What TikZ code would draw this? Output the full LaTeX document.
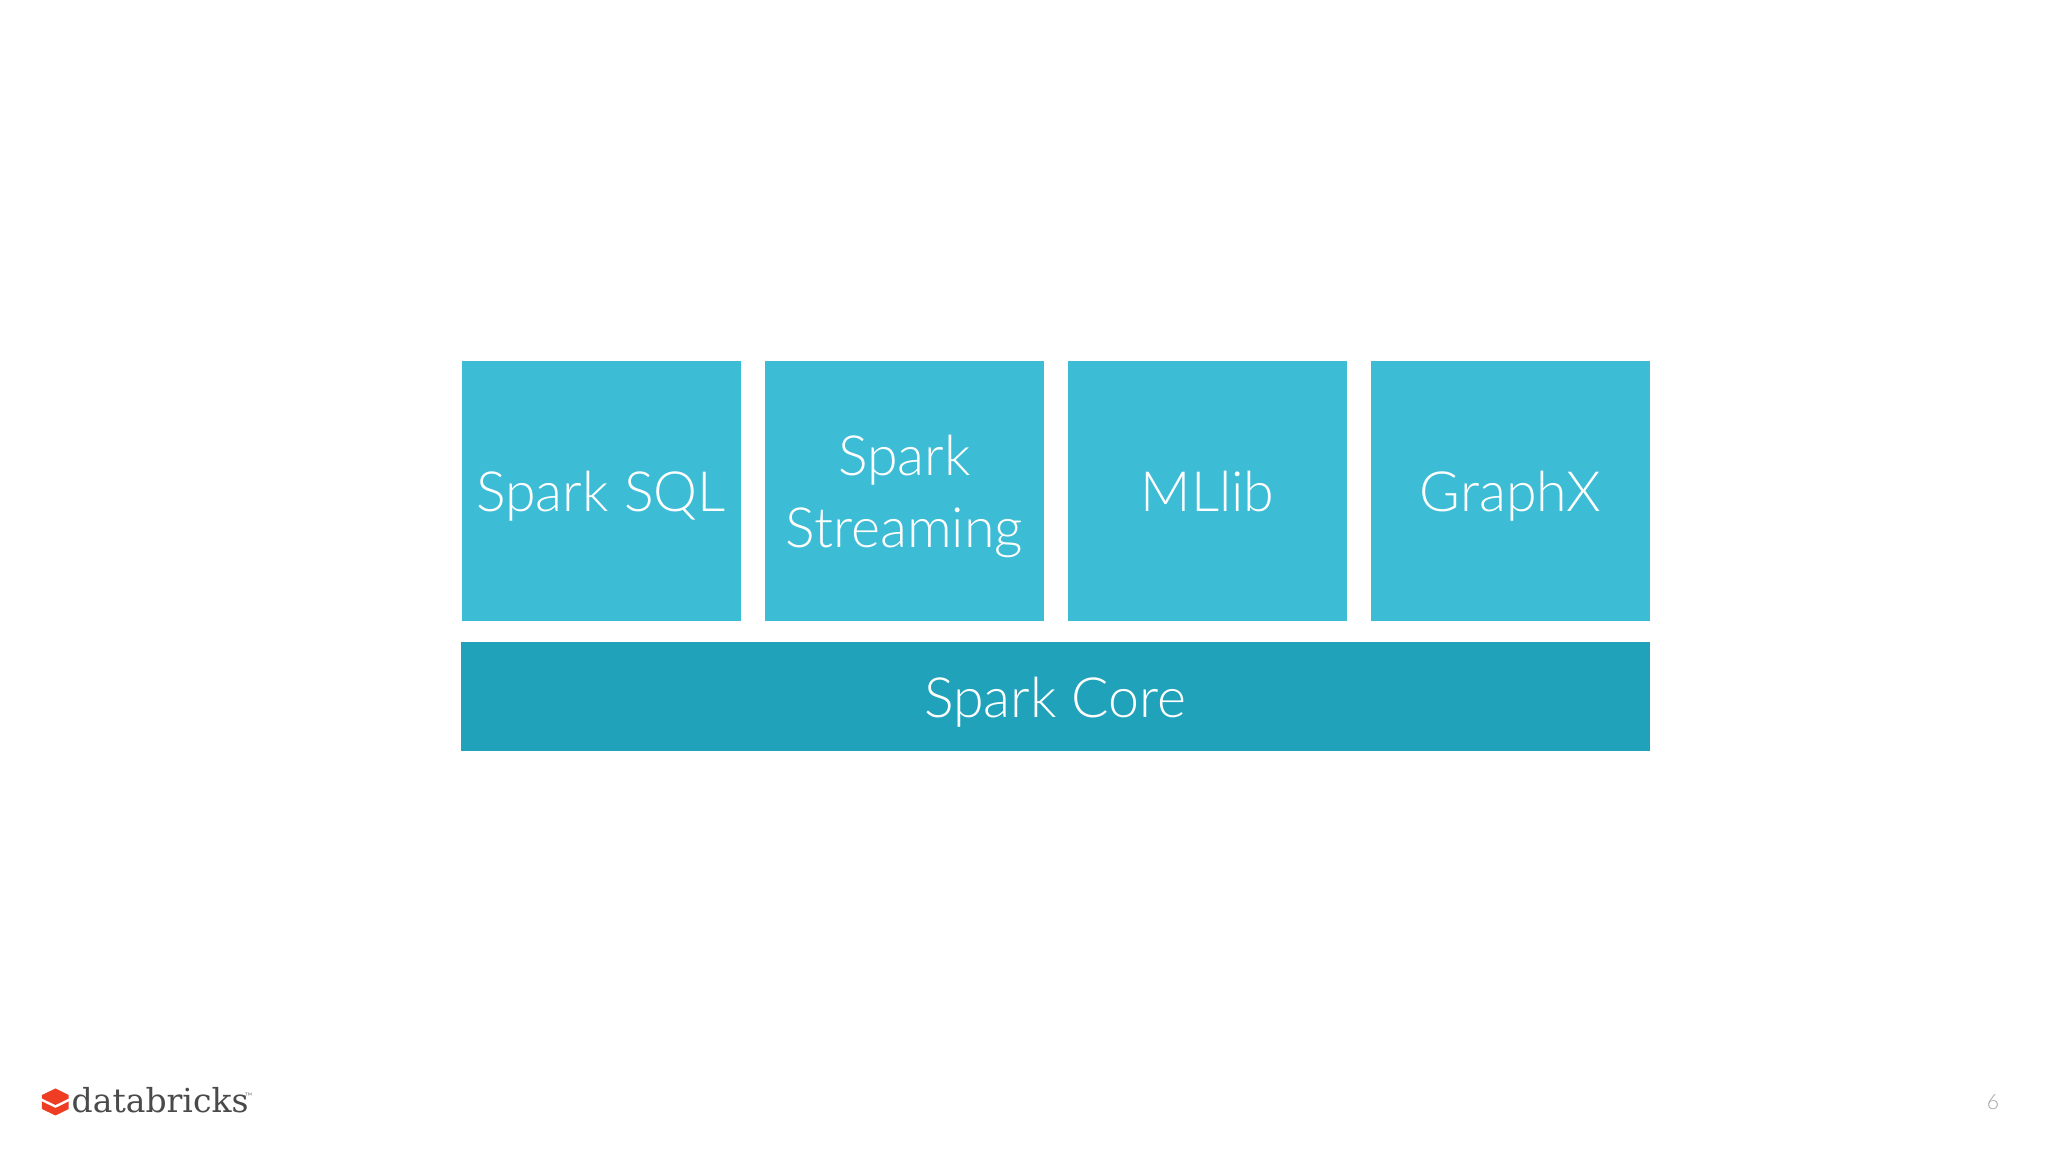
\documentclass[tikz,border=0pt]{standalone}
\usepackage{fontspec}
\setmainfont{Lato Light}
\newfontfamily\logofont{DejaVu Serif}
\definecolor{boxblue}{HTML}{3DBCD5}
\definecolor{coreblue}{HTML}{20A3BA}
\definecolor{logored}{HTML}{EE3D23}
\definecolor{logogray}{HTML}{4A4A4A}
\newcommand{\modstrut}{\rule[-4.2pt]{0pt}{20.2pt}}
\tikzset{
    module/.style={fill=boxblue, text=white, minimum width=2.79cm, minimum height=2.60cm, inner sep=0pt, align=center, font=\fontsize{15.8}{20.4}\selectfont},
    corebar/.style={fill=coreblue, text=white, minimum width=11.885cm, minimum height=1.09cm, inner sep=0pt, font=\fontsize{15.8}{20.4}\selectfont}
}
\begin{document}
\begin{tikzpicture}
                \useasboundingbox (0,0) rectangle (20.48,11.52);
                \fill[white] (0,0) rectangle (20.48,11.52);

                \node[module] (sql) at (6.01,6.61) {\modstrut Spark SQL};
                \node[module] (streaming) at (9.045,6.61) {\modstrut Spark\\\modstrut Streaming};
                \node[module] (mllib) at (12.075,6.61) {\modstrut MLlib};
                \node[module] (graphx) at (15.105,6.61) {\modstrut GraphX};

                \node[corebar] (core) at (10.555,4.555) {\modstrut Spark Core};

                % logo
                \fill[logored] (0.42,0.57) -- (0.555,0.635) -- (0.687,0.57) -- (0.687,0.535) -- (0.555,0.47) -- (0.42,0.535) -- cycle;
                \fill[logored] (0.42,0.505) -- (0.555,0.44) -- (0.687,0.505) -- (0.687,0.43) -- (0.555,0.365) -- (0.42,0.43) -- cycle;
                \node[anchor=base west, inner sep=0pt, text=logogray, font=\logofont\fontsize{9.4}{11}\selectfont] (logo) at (0.71,0.39) {databricks};
                \node[anchor=west, inner sep=0pt, text=logogray, font=\fontsize{3}{3}\selectfont] (tm) at (2.44,0.55) {™};

                \node[text=black!35, font=\fontsize{6}{7}\selectfont, inner sep=0pt] (page) at (19.93,0.50) {6};
\end{tikzpicture}
\end{document}
